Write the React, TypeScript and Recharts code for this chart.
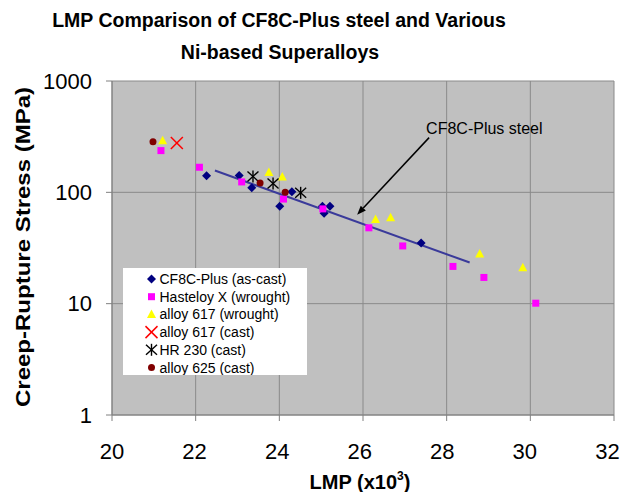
import React from 'react';
import { ScatterChart, Scatter, XAxis, YAxis, CartesianGrid, Legend, ReferenceLine } from 'recharts';

const FONT = "Arial, 'Liberation Sans', Helvetica, sans-serif";

const titleLines = ['LMP Comparison of CF8C-Plus steel and Various', 'Ni-based Superalloys'];
const xTicks = [20, 22, 24, 26, 28, 30, 32];
const yTicks = [1, 10, 100, 1000];

const cf8cLmp = [22.26, 23.04, 23.34, 24.01, 24.3, 25.03, 25.21, 25.07, 27.39];
const cf8cStress = [141, 142, 110, 75, 101, 75, 75, 65, 35];
const hastLmp = [21.17, 22.09, 23.1, 24.1, 25.04, 26.14, 26.95, 28.15, 28.89, 30.13];
const hastStress = [237, 168, 124, 87, 71, 48, 33, 21.6, 17.2, 10.1];
const a617wLmp = [21.21, 23.75, 24.07, 26.3, 26.66, 28.79, 29.82];
const a617wStress = [291, 151, 137, 57, 59, 28, 21];
const a617cLmp = [21.55];
const a617cStress = [277];
const hr230Lmp = [23.37, 23.85, 24.51];
const hr230Stress = [139, 120, 99];
const a625Lmp = [20.98, 23.54, 24.14];
const a625Stress = [285, 121, 100];
const trendLmp = [22.46, 28.55];
const trendStress = [157, 23.4];
const arrowLmp = [27.58, 25.86];
const arrowStress = [310, 63];
const arrowText = 'CF8C-Plus steel';

const legendNames = [
  'CF8C-Plus (as-cast)',
  'Hasteloy X (wrought)',
  'alloy 617 (wrought)',
  'alloy 617 (cast)',
  'HR 230 (cast)',
  'alloy 625 (cast)',
];

const zip = (xs: number[], ys: number[]) => xs.map((x, i) => ({ x, y: ys[i] }));

const drawDiamond = (cx: number, cy: number) => (
  <polygon points={`${cx},${cy - 4.5} ${cx + 4.5},${cy} ${cx},${cy + 4.5} ${cx - 4.5},${cy}`} fill="#000080" />
);
const drawSquare = (cx: number, cy: number) => (
  <rect x={cx - 3.5} y={cy - 3.5} width={7} height={7} fill="#FF00FF" />
);
const drawTriangle = (cx: number, cy: number) => (
  <polygon points={`${cx},${cy - 5} ${cx + 4.5},${cy + 3.5} ${cx - 4.5},${cy + 3.5}`} fill="#FFFF00" />
);
const drawCross = (cx: number, cy: number) => (
  <g stroke="#FF0000" strokeWidth={1.5}>
    <line x1={cx - 6} y1={cy - 6} x2={cx + 6} y2={cy + 6} />
    <line x1={cx - 6} y1={cy + 6} x2={cx + 6} y2={cy - 6} />
  </g>
);
const drawStar = (cx: number, cy: number) => (
  <g stroke="#000000" strokeWidth={1.4}>
    <line x1={cx} y1={cy - 6} x2={cx} y2={cy + 6} />
    <line x1={cx - 5.5} y1={cy - 5} x2={cx + 5.5} y2={cy + 5} />
    <line x1={cx - 5.5} y1={cy + 5} x2={cx + 5.5} y2={cy - 5} />
  </g>
);
const drawCircle = (cx: number, cy: number) => <circle cx={cx} cy={cy} r={3.5} fill="#800000" />;

const drawers = [drawDiamond, drawSquare, drawTriangle, drawCross, drawStar, drawCircle];

const mk = (fn: (cx: number, cy: number) => React.ReactElement) => (p: any) => fn(p.cx, p.cy);

const LegendBox = () => (
  <svg width={184} height={107} style={{ display: 'block' }}>
    <rect x={0} y={0} width={184} height={107} fill="#ffffff" />
    {legendNames.map((name, i) => {
      const cy = 11 + i * 17.7;
      return (
        <g key={name}>
          {drawers[i](28.5, cy)}
          <text x={36.5} y={cy + 5} fontSize={14} fontFamily={FONT} fill="#000">
            {name}
          </text>
        </g>
      );
    })}
  </svg>
);

const ArrowShape = (p: any) => {
  const { x1, y1, x2, y2 } = p;
  const ang = Math.atan2(y2 - y1, x2 - x1);
  const L = 9;
  const W = 3.5;
  const bx = x2 - L * Math.cos(ang);
  const by = y2 - L * Math.sin(ang);
  const px = -Math.sin(ang) * W;
  const py = Math.cos(ang) * W;
  return (
    <g>
      <line x1={x1} y1={y1} x2={bx} y2={by} stroke="#000" strokeWidth={1.5} />
      <polygon points={`${x2},${y2} ${bx + px},${by + py} ${bx - px},${by - py}`} fill="#000" />
      <text x={x1 - 3} y={y1 - 3.5} fontSize={16} fontFamily={FONT} fill="#000">
        {arrowText}
      </text>
    </g>
  );
};

const XTick = (p: any) => {
  const { x, y, payload, index } = p;
  return (
    <text x={x - (index || 0) * 1.1} y={y} dy="0.71em" textAnchor="middle" fontSize={22} fontFamily={FONT} fill="#000">
      {payload.value}
    </text>
  );
};

const YLabel = (p: any) => {
  const vb = p.viewBox || { x: 14, y: 73, width: 90, height: 334 };
  const cx = 22;
  const cy = vb.y + vb.height / 2 - 1;
  return (
    <text
      x={cx}
      y={cy}
      transform={`rotate(-90 ${cx} ${cy})`}
      textAnchor="middle"
      fontSize={21}
      fontWeight="bold"
      fontFamily={FONT}
      fill="#000"
      textLength={320}
      lengthAdjust="spacingAndGlyphs"
    >
      Creep-Rupture Stress (MPa)
    </text>
  );
};

const XLabel = (p: any) => {
  const vb = p.viewBox || { x: 104, y: 407, width: 502, height: 70 };
  const cx = vb.x + vb.width / 2 - 3;
  const y = vb.y + 74;
  return (
    <text x={cx} y={y} textAnchor="middle" fontSize={20} fontWeight="bold" fontFamily={FONT} fill="#000">
      <tspan>LMP (x10</tspan>
      <tspan fontSize={12} dy={-9}>3</tspan>
      <tspan dy={9}>)</tspan>
    </text>
  );
};

export default function App() {
  return (
    <div style={{ position: 'relative', width: 623, height: 484, background: '#fff' }}>
      <svg
        width={623}
        height={70}
        style={{ position: 'absolute', left: 0, top: 0, pointerEvents: 'none', zIndex: 1 }}
      >
        <text x={271} y={19} textAnchor="middle" fontSize={19.5} fontWeight="bold" fontFamily={FONT} fill="#000">
          {titleLines[0]}
        </text>
        <text x={272} y={51} textAnchor="middle" fontSize={19.5} fontWeight="bold" fontFamily={FONT} fill="#000">
          {titleLines[1]}
        </text>
      </svg>
      <ScatterChart width={623} height={484} margin={{ top: 73, right: 17, bottom: 7, left: 14 }}>
        <CartesianGrid fill="#C0C0C0" stroke="#8a8a8a" strokeWidth={1} />
        <XAxis
          type="number"
          dataKey="x"
          domain={[20, 32]}
          ticks={xTicks}
          interval={0}
          allowDataOverflow
          height={70}
          stroke="#808080"
          tickSize={6}
          tickMargin={22}
          tick={<XTick />}
          label={{ content: XLabel }}
        />
        <YAxis
          type="number"
          dataKey="y"
          scale="log"
          domain={[1, 1000]}
          ticks={yTicks}
          interval={0}
          allowDataOverflow
          width={90}
          stroke="#808080"
          tickSize={6}
          tickMargin={14}
          tick={{ fill: '#000', fontSize: 22, fontFamily: FONT }}
          label={{ content: YLabel }}
        />
        <Scatter
          name="trend"
          data={zip(trendLmp, trendStress)}
          line={{ stroke: '#3a3a9a', strokeWidth: 2 }}
          shape={() => <g />}
          legendType="none"
          isAnimationActive={false}
        />
        <Scatter name={legendNames[0]} data={zip(cf8cLmp, cf8cStress)} shape={mk(drawDiamond)} isAnimationActive={false} />
        <Scatter name={legendNames[1]} data={zip(hastLmp, hastStress)} shape={mk(drawSquare)} isAnimationActive={false} />
        <Scatter name={legendNames[2]} data={zip(a617wLmp, a617wStress)} shape={mk(drawTriangle)} isAnimationActive={false} />
        <Scatter name={legendNames[3]} data={zip(a617cLmp, a617cStress)} shape={mk(drawCross)} isAnimationActive={false} />
        <Scatter name={legendNames[4]} data={zip(hr230Lmp, hr230Stress)} shape={mk(drawStar)} isAnimationActive={false} />
        <Scatter name={legendNames[5]} data={zip(a625Lmp, a625Stress)} shape={mk(drawCircle)} isAnimationActive={false} />
        <ReferenceLine
          segment={[
            { x: arrowLmp[0], y: arrowStress[0] },
            { x: arrowLmp[1], y: arrowStress[1] },
          ]}
          shape={ArrowShape}
        />
        <Legend
          layout="vertical"
          verticalAlign="middle"
          align="center"
          wrapperStyle={{ left: 115, top: 260, width: 184, height: 107 }}
          content={() => <LegendBox />}
        />
      </ScatterChart>
    </div>
  );
}
